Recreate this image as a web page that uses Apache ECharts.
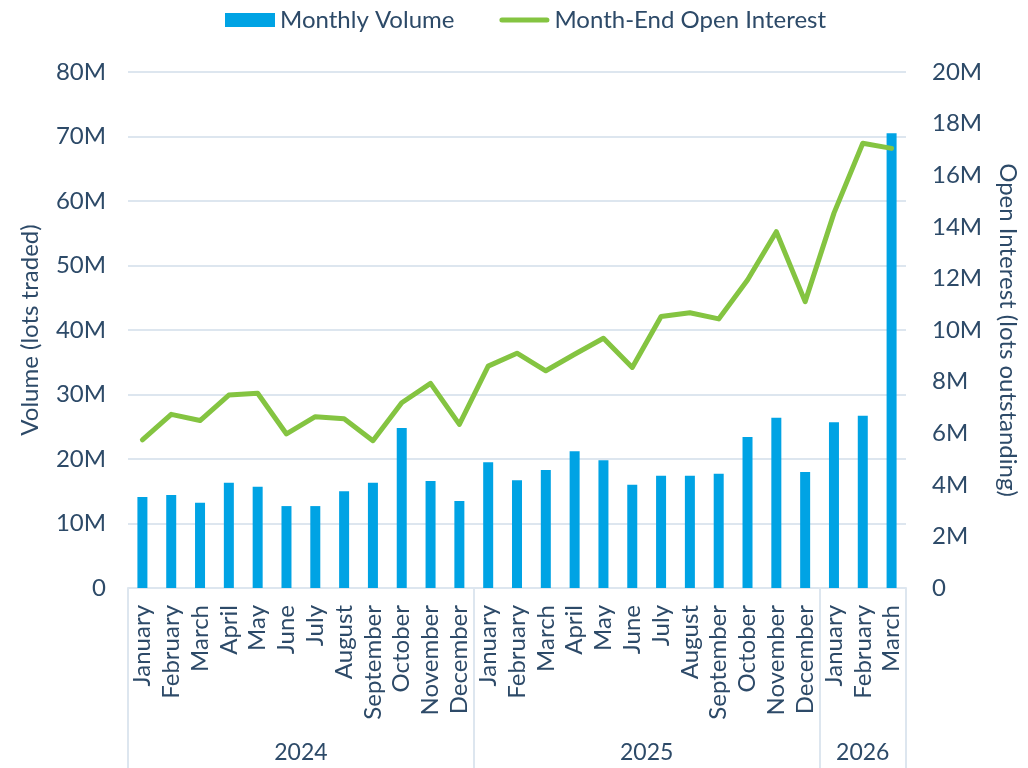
<!DOCTYPE html>
<html><head><meta charset="utf-8">
<script src="https://cdn.jsdelivr.net/npm/echarts@6/dist/echarts.min.js"></script>
<style>html,body{margin:0;padding:0;background:#fff}#c{width:1028px;height:768px}</style>
</head><body><div id="c"></div>
<script>
const months = ['January','February','March','April','May','June','July','August','September','October','November','December',
  'January','February','March','April','May','June','July','August','September','October','November','December',
  'January','February','March'];
const years = ['2024','2025','2026'];
const monthsPerYear = [12,12,3];
// values in millions
const volume = [14.1,14.4,13.2,16.3,15.7,12.7,12.7,15.0,16.3,24.8,16.6,13.5,
  19.5,16.7,18.3,21.2,19.8,16.0,17.4,17.4,17.7,23.4,26.4,18.0,
  25.7,26.7,70.5];
const openInterest = [5.74,6.73,6.49,7.48,7.55,5.97,6.64,6.56,5.71,7.18,7.93,6.34,
  8.60,9.10,8.42,9.06,9.68,8.55,10.52,10.67,10.43,11.94,13.81,11.10,
  14.53,17.24,17.04];

const bounds = [0]; const centers = [];
monthsPerYear.forEach(n => { const s = bounds[bounds.length-1]; centers.push(s + n/2); bounds.push(s + n); });
const yearAt = {}; centers.forEach((c,i)=>yearAt[c]=years[i]);

const txt = '#2d4a68', grid = '#dde6ef', font = 'Lato';
const chart = echarts.init(document.getElementById('c'));
chart.setOption({
  animation:false,
  textStyle:{fontFamily:font},
  legend:{top:3,left:220,itemWidth:50,itemHeight:14,itemGap:45,
    textStyle:{color:txt,fontSize:24,fontFamily:font},
    data:[{name:'Monthly Volume',icon:'rect'},
      {name:'Month-End Open Interest',icon:'path://M2.5,0 L47.5,0 A2.5,2.5 0 0 1 47.5,5 L2.5,5 A2.5,2.5 0 0 1 2.5,0 Z'}]},
  grid:{left:128,right:116,top:72,bottom:180},
  xAxis:[{
    type:'category',data:months,position:'bottom',
    axisLine:{lineStyle:{color:grid,width:2}},axisTick:{show:false},
    axisLabel:{rotate:90,interval:0,fontSize:24,color:txt,margin:17,fontFamily:font}
  },{
    type:'value',min:0,max:bounds[bounds.length-1],position:'bottom',
    axisLine:{show:false},splitLine:{show:false},
    axisTick:{show:true,inside:false,length:180,customValues:bounds,lineStyle:{color:grid,width:2}},
    axisLabel:{customValues:centers,margin:153,fontSize:23,color:txt,fontFamily:font,
      formatter:v=>yearAt[v]||''}
  }],
  yAxis:[{
    type:'value',min:0,max:80,interval:10,name:'Volume (lots traded)',nameLocation:'middle',nameGap:86,
    nameTextStyle:{color:txt,fontSize:24,fontFamily:font},
    axisLine:{show:false},axisTick:{show:false},
    splitLine:{lineStyle:{color:grid,width:2}},
    axisLabel:{fontSize:24,color:txt,margin:22,fontFamily:font,formatter:v=>v===0?'0':v+'M'}
  },{
    type:'value',min:0,max:20,interval:2,name:'Open Interest (lots outstanding)',nameLocation:'middle',nameGap:90,nameRotate:-90,
    nameTextStyle:{color:txt,fontSize:24,fontFamily:font},
    axisLine:{show:false},axisTick:{show:false},splitLine:{show:false},
    axisLabel:{fontSize:24,color:txt,margin:26,fontFamily:font,formatter:v=>v===0?'0':v+'M'}
  }],
  series:[{
    name:'Monthly Volume',type:'bar',data:volume,xAxisIndex:0,yAxisIndex:0,barWidth:10,
    itemStyle:{color:'#00a3e4'}
  },{
    name:'Month-End Open Interest',type:'line',data:openInterest,xAxisIndex:0,yAxisIndex:1,
    showSymbol:false,symbol:'none',lineStyle:{color:'#84c441',width:5,cap:'round',join:'round'},itemStyle:{color:'#84c441'}
  }]
});
</script></body></html>
